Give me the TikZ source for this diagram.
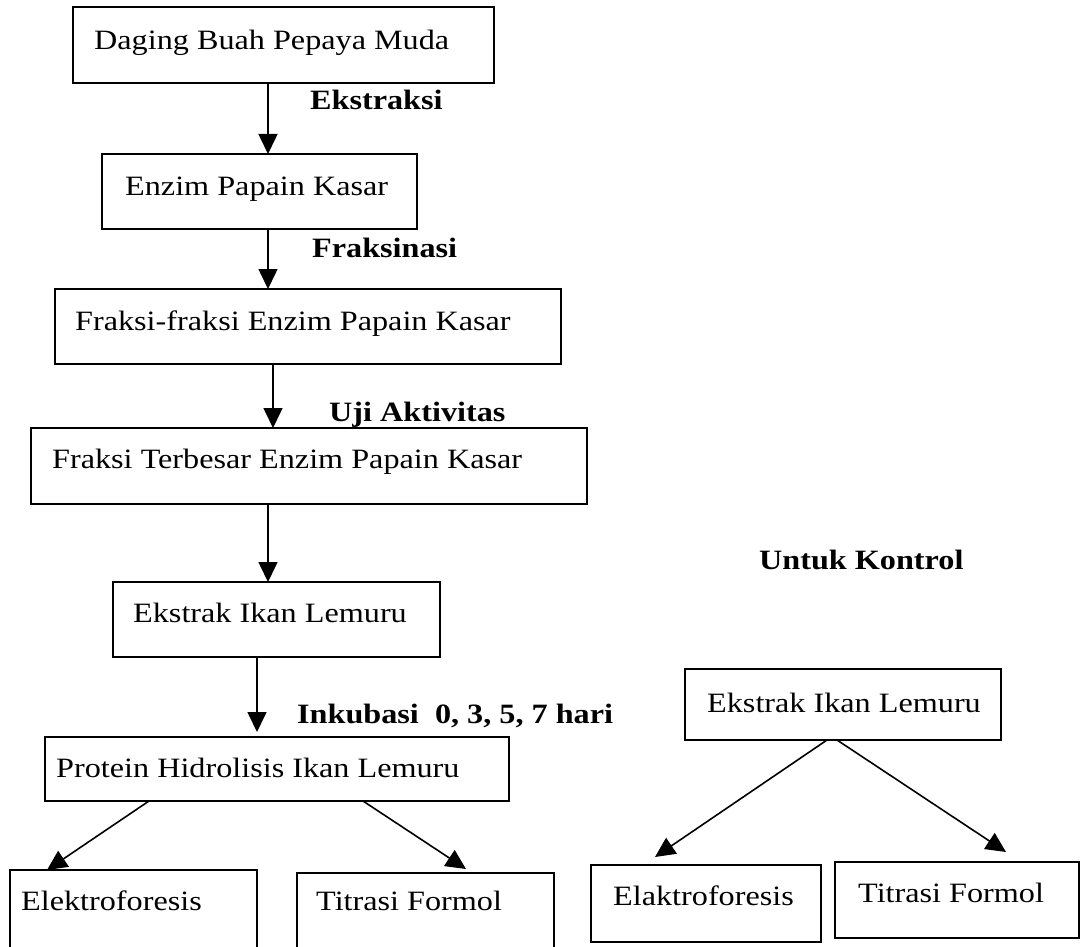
\documentclass[tikz,border=0pt]{standalone}
\usepackage{fontspec}
\setmainfont[FakeStretch=1.15]{Liberation Serif}
\usetikzlibrary{arrows.meta}
\newcommand\mkbox[5]{\node[box, minimum width={#4pt-#2pt}, minimum height={#5pt-#3pt}] (#1) at ({(#2+#4)/2},{(#3+#5)/2}) {};}
\begin{document}
\begin{tikzpicture}[x=1pt,y=-1pt,
  box/.style={draw, rectangle, line width=1.5pt, inner sep=0pt, outer sep=0pt},
  txt/.style={inner sep=0pt, anchor=base west, font=\fontsize{28}{30}\selectfont},
  lbl/.style={inner sep=0pt, anchor=base west, font=\fontsize{28}{30}\selectfont\bfseries},
  arr/.style={line width=1.6pt, -{Triangle[length=20pt,width=19pt]}}]
\path[use as bounding box] (0,0) rectangle (1081,947);
\clip (0,0) rectangle (1081,947);
% boxes
\mkbox{b1}{73}{7}{494}{83}
\mkbox{b2}{102}{154}{417}{229}
\mkbox{b3}{55}{289}{561}{364}
\mkbox{b4}{31}{428}{587}{504}
\mkbox{b5}{113}{582}{440}{657}
\mkbox{b6}{45}{737}{509}{801}
\mkbox{b7}{10}{870}{257}{965}
\mkbox{b8}{297}{873}{554}{965}
\mkbox{rb}{685}{669}{1001}{740}
\mkbox{r1}{591}{865}{821}{942}
\mkbox{r2}{835}{862}{1079}{938}
% texts
\node[txt] (t1) at (94,50) {Daging Buah Pepaya Muda};
\node[txt] (t2) at (125,195) {Enzim Papain Kasar};
\node[txt] (t3) at (75,330) {Fraksi-fraksi Enzim Papain Kasar};
\node[txt] (t4) at (52,468) {Fraksi Terbesar Enzim Papain Kasar};
\node[txt] (t5) at (133,622) {Ekstrak Ikan Lemuru};
\node[txt] (t6) at (56,777) {Protein Hidrolisis Ikan Lemuru};
\node[txt] (t7) at (21,910) {Elektroforesis};
\node[txt] (t8) at (316,910) {Titrasi Formol};
\node[txt] (rt) at (707,712) {Ekstrak Ikan Lemuru};
\node[txt] (r1t) at (613,905) {Elaktroforesis};
\node[txt] (r2t) at (858,902) {Titrasi Formol};
% labels
\node[lbl] (l1) at (310,110) {Ekstraksi};
\node[lbl] (l2) at (312,257) {Fraksinasi};
\node[lbl] (l3) at (329,421) {Uji Aktivitas};
\node[lbl] (l4) at (297,723) {Inkubasi\ \ 0, 3, 5, 7 hari};
\node[lbl] (l5) at (759,569) {Untuk Kontrol};
% connector x positions
\coordinate (xa) at (268,0);
\coordinate (xb) at (273,0);
\coordinate (xc) at (257,0);
\coordinate (s1) at (149,0);
\coordinate (s2) at (363,0);
\coordinate (s3) at (827,0);
\coordinate (s4) at (837,0);
\coordinate (e1) at (47,870);
\coordinate (e2) at (466,869);
\coordinate (e3) at (655,857);
\coordinate (e4) at (1006,852);
% connectors
\draw[arr] (b1.south -| xa) -- (b2.north -| xa);
\draw[arr] (b2.south -| xa) -- (b3.north -| xa);
\draw[arr] (b3.south -| xb) -- (b4.north -| xb);
\draw[arr] (b4.south -| xa) -- (b5.north -| xa);
\draw[arr, shorten >=5pt] (b5.south -| xc) -- (b6.north -| xc);
\draw[arr] (b6.south -| s1) -- (e1);
\draw[arr] (b6.south -| s2) -- (e2);
\draw[arr] (rb.south -| s3) -- (e3);
\draw[arr] (rb.south -| s4) -- (e4);
\end{tikzpicture}
\end{document}
